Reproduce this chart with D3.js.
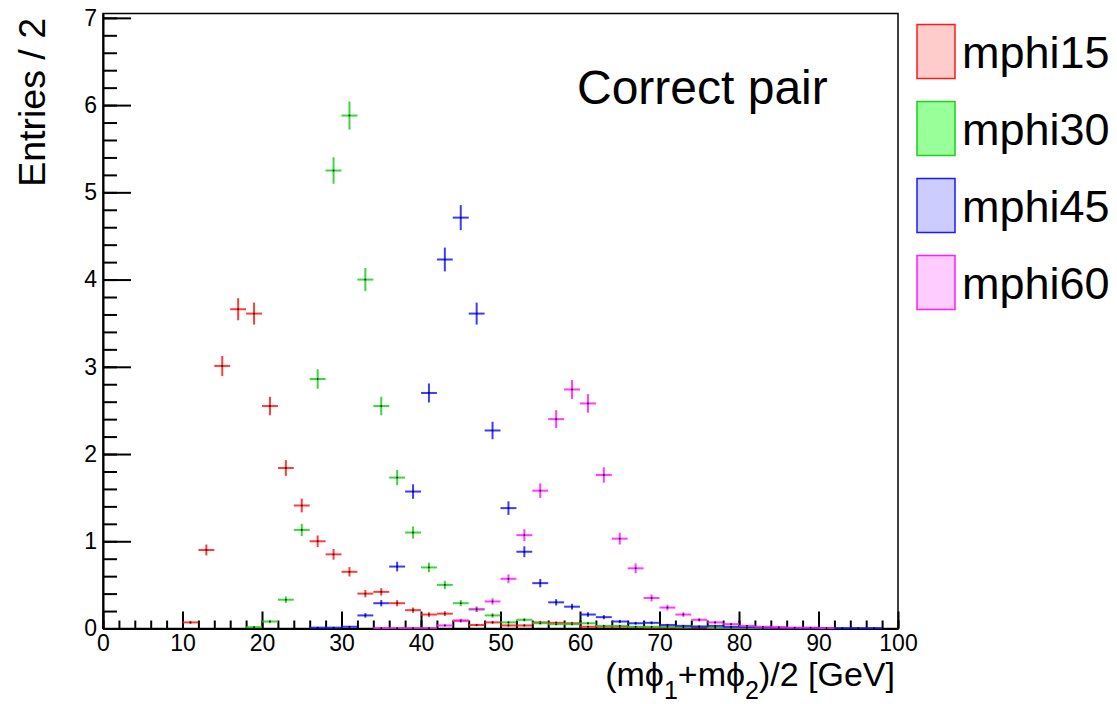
<!DOCTYPE html>
<html>
<head>
<meta charset="utf-8">
<script src="https://cdn.jsdelivr.net/npm/d3@7"></script>
<style>
  body { margin: 0; background: #fff; }
  svg { font-family: "Liberation Sans", Arial, Helvetica, sans-serif; }
  .axis text { font-size: 23px; fill: #000; }
  .axis path, .axis line { stroke: #000; }
</style>
</head>
<body>
<div id="chart"></div>
<script>
// bin centres (bin width 2 GeV)
const binCenters = [1, 3, 5, 7, 9, 11, 13, 15, 17, 19, 21, 23, 25, 27, 29, 31, 33, 35, 37, 39,
  41, 43, 45, 47, 49, 51, 53, 55, 57, 59, 61, 63, 65, 67, 69, 71, 73, 75, 77, 79,
  81, 83, 85, 87, 89, 91, 93, 95, 97, 99];

// bin contents
const mphi15 = [0, 0, 0, 0, 0, 0.07, 0.90, 3.01, 3.66, 3.61, 2.55, 1.84, 1.41, 1.00, 0.85, 0.65, 0.40, 0.42, 0.29, 0.21,
  0.16, 0.17, 0.09, 0.04, 0.07, 0.035, 0.035, 0.07, 0.065, 0.06, 0.02, 0.02, 0.02, 0.015, 0.01, 0.01, 0.01, 0.01, 0.005, 0.005,
  0.005, 0.005, 0.005, 0, 0, 0, 0, 0, 0, 0];
const mphi30 = [0, 0, 0, 0, 0, 0, 0, 0, 0, 0.015, 0.08, 0.33, 1.13, 2.86, 5.25, 5.88, 4.00, 2.55, 1.73, 1.10,
  0.70, 0.50, 0.29, 0.22, 0.15, 0.07, 0.10, 0.06, 0.05, 0.05, 0.06, 0.03, 0.03, 0.02, 0.02, 0.02, 0.015, 0.025, 0.01, 0.01,
  0.005, 0.005, 0, 0, 0, 0, 0, 0, 0, 0];
const mphi45 = [0, 0, 0, 0, 0, 0, 0, 0, 0, 0, 0, 0, 0, 0.01, 0.01, 0.02, 0.15, 0.29, 0.71, 1.57,
  2.70, 4.23, 4.71, 3.61, 2.27, 1.38, 0.88, 0.52, 0.30, 0.25, 0.16, 0.13, 0.08, 0.06, 0.065, 0.04, 0.03, 0.02, 0.03, 0.02,
  0.015, 0.01, 0.01, 0.005, 0.005, 0.005, 0.005, 0.005, 0.005, 0];
const mphi60 = [0, 0, 0, 0, 0, 0, 0, 0, 0, 0, 0, 0, 0, 0, 0, 0, 0, 0.005, 0.005, 0.005,
  0.005, 0.035, 0.09, 0.22, 0.31, 0.57, 1.07, 1.58, 2.40, 2.74, 2.58, 1.76, 1.03, 0.69, 0.35, 0.24, 0.16, 0.10, 0.07, 0.05,
  0.03, 0.02, 0.015, 0.01, 0.01, 0.005, 0, 0, 0, 0];

const seriesNames = ["mphi15", "mphi30", "mphi45", "mphi60"];
const seriesValues = [mphi15, mphi30, mphi45, mphi60];
const lineColors = ["#ff1a1a", "#1fcc1f", "#1a1aff", "#ff1aff"];
const fillColors = ["#ffcccc", "#99ff99", "#ccccff", "#ffccff"];

const eventWeight = 0.0044; // per-entry weight, error = sqrt(sum w^2)
const binWidth = 2;

const yTicks = [0, 1, 2, 3, 4, 5, 6, 7];
const xTicks = [0, 10, 20, 30, 40, 50, 60, 70, 80, 90, 100];

const height = 704,
    width = 1117,
    margin = ({ top: 13.5, right: 219, bottom: 75.5, left: 103 });

const svg = d3.select("#chart")
    .append("svg")
    .attr("width", width)
    .attr("height", height)
    .attr("viewBox", [0, 0, width, height]);

let x = d3.scaleLinear()
    .domain([0, 100])
    .range([margin.left, width - margin.right]);

let y = d3.scaleLinear()
    .domain([0, 7.05])
    .range([height - margin.bottom, margin.top]);

// frame
svg.append("rect")
    .attr("x", margin.left)
    .attr("y", margin.top)
    .attr("width", width - margin.right - margin.left)
    .attr("height", height - margin.bottom - margin.top)
    .attr("fill", "none")
    .attr("stroke", "#000")
    .attr("stroke-width", 1.5);

// y axis: major + minor ticks pointing inward
svg.append("g")
    .attr("class", "axis")
    .attr("transform", `translate(${margin.left},0)`)
    .call(d3.axisLeft(y)
        .tickValues(d3.range(0, 7.01, 0.2))
        .tickSize(-14)
        .tickSizeOuter(0)
        .tickFormat(""))
    .call(g => g.selectAll("line").attr("stroke-width", 2));

svg.append("g")
    .attr("class", "axis")
    .attr("transform", `translate(${margin.left},0)`)
    .call(d3.axisLeft(y)
        .tickValues(yTicks)
        .tickSize(-28)
        .tickSizeOuter(0)
        .tickPadding(6)
        .tickFormat(d3.format("d")))
    .call(g => g.select(".domain").attr("stroke-width", 2))
    .call(g => g.selectAll("line").attr("stroke-width", 2));

// x axis
svg.append("g")
    .attr("class", "axis")
    .attr("transform", `translate(0,${height - margin.bottom})`)
    .call(d3.axisBottom(x)
        .tickValues(d3.range(0, 100.01, 2))
        .tickSize(-8)
        .tickSizeOuter(0)
        .tickFormat(""))
    .call(g => g.selectAll("line").attr("stroke-width", 2));

svg.append("g")
    .attr("class", "axis")
    .attr("transform", `translate(0,${height - margin.bottom})`)
    .call(d3.axisBottom(x)
        .tickValues(xTicks)
        .tickSize(-17)
        .tickSizeOuter(0)
        .tickPadding(6)
        .tickFormat(d3.format("d")))
    .call(g => g.select(".domain").attr("stroke-width", 2))
    .call(g => g.selectAll("line").attr("stroke-width", 2));

// axis titles
const xTitle = svg.append("text")
    .attr("x", width - margin.right - 3)
    .attr("y", 686)
    .attr("text-anchor", "end")
    .attr("font-size", 34);
xTitle.append("tspan").text("(m\u03d5");
xTitle.append("tspan").attr("font-size", 25).attr("dy", 13).text("1");
xTitle.append("tspan").attr("dy", -13).text("+m\u03d5");
xTitle.append("tspan").attr("font-size", 25).attr("dy", 13).text("2");
xTitle.append("tspan").attr("dy", -13).text(")/2 [GeV]");

svg.append("text")
    .attr("transform", "rotate(-90)")
    .attr("x", -18)
    .attr("y", 45)
    .attr("text-anchor", "end")
    .attr("font-size", 37.5)
    .text("Entries / 2");

// error crosses
seriesValues.forEach((vals, si) => {
    let pts = binCenters.map((c, i) => ({ c: c, v: vals[i], e: Math.sqrt(vals[i] * eventWeight) }))
        .filter(d => d.v > 0);
    let g = svg.append("g")
        .attr("stroke", lineColors[si])
        .attr("stroke-width", 2)
        .attr("stroke-opacity", 0.85);
    g.selectAll(".h").data(pts).join("line")
        .attr("x1", d => x(d.c - binWidth / 2))
        .attr("x2", d => x(d.c + binWidth / 2))
        .attr("y1", d => y(d.v))
        .attr("y2", d => y(d.v));
    g.selectAll(".v").data(pts).join("line")
        .attr("class", "v")
        .attr("x1", d => x(d.c))
        .attr("x2", d => x(d.c))
        .attr("y1", d => y(d.v - d.e))
        .attr("y2", d => y(d.v + d.e));
    svg.append("g").selectAll("rect").data(pts).join("rect")
        .attr("x", d => x(d.c) - 0.75)
        .attr("y", d => y(d.v) - 0.75)
        .attr("width", 1.5)
        .attr("height", 1.5)
        .attr("fill", "#000");
});

// label
svg.append("text")
    .attr("x", 577)
    .attr("y", 104)
    .attr("font-size", 48)
    .text("Correct pair");

// legend
const legend = svg.append("g");
seriesNames.forEach((name, i) => {
    legend.append("rect")
        .attr("x", 917)
        .attr("y", 24.5 + i * 77)
        .attr("width", 38)
        .attr("height", 54)
        .attr("fill", fillColors[i])
        .attr("stroke", lineColors[i])
        .attr("stroke-width", 1.5);
    legend.append("text")
        .attr("x", 962)
        .attr("y", 68 + i * 77)
        .attr("font-size", 45)
        .text(name);
});
</script>
</body>
</html>
